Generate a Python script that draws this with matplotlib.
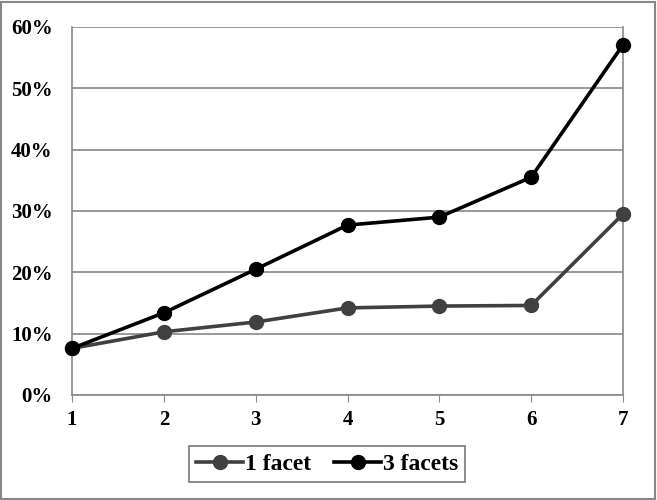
import matplotlib
matplotlib.use('Agg')
import matplotlib.pyplot as plt
from matplotlib.patches import Rectangle
from matplotlib.ticker import FuncFormatter

# data
facets = [1, 2, 3, 4, 5, 6, 7]
one_facet = [7.6, 10.3, 11.9, 14.2, 14.5, 14.6, 29.5]
three_facets = [7.6, 13.4, 20.5, 27.7, 29.0, 35.5, 57.1]

plt.rcParams['font.family'] = 'Liberation Serif'
plt.rcParams['font.weight'] = 'bold'

fig = plt.figure(figsize=(6.57, 5.0), dpi=100)
ax = fig.add_axes([72 / 657, 105 / 500, 551 / 657, 368 / 500])

ax.plot(facets, one_facet, color='#404040', lw=2.6, marker='o', ms=10,
        label='1 facet', clip_on=False, zorder=3)
ax.plot(facets, three_facets, color='black', lw=2.6, marker='o', ms=10,
        label='3 facets', clip_on=False, zorder=4)

ax.set_xlim(1, 7)
ax.set_ylim(0, 60)
ax.set_xticks(facets)
ax.set_yticks(range(0, 61, 10))
ax.yaxis.set_major_formatter(FuncFormatter(lambda v, p: f'{int(v)}%'))
ax.grid(axis='y', color='#888888', lw=1.2)
ax.set_axisbelow(True)
for side in ['left', 'bottom', 'right']:
    ax.spines[side].set_color('#888888')
    ax.spines[side].set_linewidth(1.2)
ax.spines['top'].set_visible(False)
ax.tick_params(axis='y', length=0, pad=14, labelsize=15)
ax.tick_params(axis='x', length=5, color='#888888', pad=6, labelsize=15)

leg = fig.legend(loc='center', bbox_to_anchor=(327 / 657, 36 / 500), ncol=2,
                 frameon=True, fancybox=False, edgecolor='#555555',
                 fontsize=17, handlelength=2.0, handletextpad=0.05,
                 columnspacing=1.0, borderpad=0.3, borderaxespad=0)
leg.get_frame().set_linewidth(1.2)

fig.patches.append(Rectangle((0.002, 0.003), 0.995, 0.994, transform=fig.transFigure,
                             fill=False, edgecolor='#888888', lw=1.5))

fig.savefig('out.png', dpi=100)
